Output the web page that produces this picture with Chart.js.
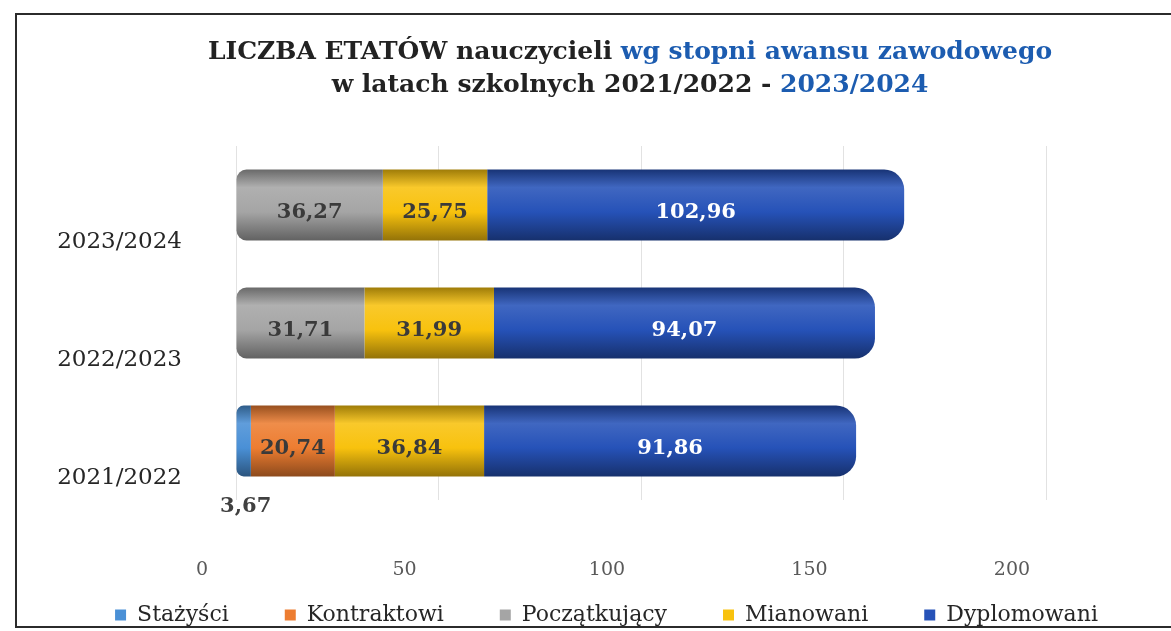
<!DOCTYPE html>
<html lang="pl">

<head>
  <meta charset="UTF-8">
  <title>Liczba etatów nauczycieli</title>
  <script src="https://cdn.jsdelivr.net/npm/chart.js"></script>
  <style>
    html, body { margin: 0; padding: 0; background: #fff; }
    #wrap { width: 1171px; height: 631px; position: relative; }
  </style>
</head>

<body>
  <div id="wrap"><canvas id="etaty"></canvas></div>
  <script>
    // dane
    const lata = ['2023/2024', '2022/2023', '2021/2022'];
    const stazysci = [null, null, 3.67];
    const kontraktowi = [null, null, 20.74];
    const poczatkujacy = [36.27, 31.71, null];
    const mianowani = [25.75, 31.99, 36.84];
    const dyplomowani = [102.96, 94.07, 91.86];
    const osMin = 0, osMax = 200, osKrok = 50;

    const tytul1 = ['LICZBA ETATÓW nauczycieli ', 'wg stopni awansu zawodowego'];
    const tytul2 = ['w latach szkolnych 2021/2022 - ', '2023/2024'];

    const serif = '"DejaVu Serif", "Liberation Serif", serif';
    const legPad = 56;

    // cieniowanie "walca"
    function shade(hex, f) {
      const n = parseInt(hex.slice(1), 16);
      let r = n >> 16, g = (n >> 8) & 255, b = n & 255;
      const t = f < 0 ? 0 : 255, p = Math.abs(f);
      r = Math.round((t - r) * p + r);
      g = Math.round((t - g) * p + g);
      b = Math.round((t - b) * p + b);
      return `rgb(${r},${g},${b})`;
    }

    function walec(color) {
      return (ctx) => {
        const chart = ctx.chart;
        const y = chart.scales.y;
        if (!y || !chart.chartArea || ctx.dataIndex === undefined) return color;
        const py = y.getPixelForValue(ctx.dataIndex);
        const g = chart.ctx.createLinearGradient(0, py - 35, 0, py + 35);
        g.addColorStop(0, shade(color, -0.35));
        g.addColorStop(0.25, shade(color, 0.12));
        g.addColorStop(0.6, color);
        g.addColorStop(1, shade(color, -0.4));
        return g;
      };
    }

    const fmt = v => v.toFixed(2).replace('.', ',');

    const etykiety = {
      id: 'etykiety',
      afterDatasetsDraw(chart) {
        const ctx = chart.ctx;
        ctx.save();
        ctx.font = 'bold 21px ' + serif;
        ctx.textAlign = 'center';
        ctx.textBaseline = 'middle';
        chart.data.datasets.forEach((ds, i) => {
          const meta = chart.getDatasetMeta(i);
          meta.data.forEach((bar, j) => {
            const v = ds.data[j];
            if (v == null) return;
            const cx = (bar.x + bar.base) / 2;
            if (ds.label === 'Stażyści') {
              ctx.fillStyle = '#404040';
              ctx.fillText(fmt(v), cx + 2, bar.y + 66);
              return;
            }
            ctx.fillStyle = ds.label === 'Dyplomowani' ? '#ffffff' : '#3a3a3a';
            ctx.fillText(fmt(v), cx, bar.y + 8);
          });
        });
        ctx.restore();
      }
    };

    const ramkaTytul = {
      id: 'ramkaTytul',
      afterDraw(chart) {
        const ctx = chart.ctx;
        ctx.save();
        ctx.strokeStyle = '#2b2b2b';
        ctx.lineWidth = 2;
        ctx.beginPath();
        ctx.moveTo(1175, 14);
        ctx.lineTo(16, 14);
        ctx.lineTo(16, 627);
        ctx.lineTo(1175, 627);
        ctx.stroke();

        ctx.font = 'bold 25px ' + serif;
        ctx.textBaseline = 'alphabetic';
        ctx.textAlign = 'left';
        const kolory = ['#222222', '#1c5cb0'];
        [[tytul1, 59], [tytul2, 92]].forEach(([czesci, yy]) => {
          const w = czesci.reduce((s, t) => s + ctx.measureText(t).width, 0);
          let x = 630 - w / 2;
          czesci.forEach((t, k) => {
            ctx.fillStyle = kolory[k];
            ctx.fillText(t, x, yy);
            x += ctx.measureText(t).width;
          });
        });
        ctx.restore();
      }
    };

    const ctx = document.getElementById('etaty').getContext('2d');

    const zestawy = [
      { label: 'Stażyści', data: stazysci, color: '#4a90d6', radius: { topLeft: 10, bottomLeft: 10 } },
      { label: 'Kontraktowi', data: kontraktowi, color: '#ed7d31', radius: 0 },
      { label: 'Początkujący', data: poczatkujacy, color: '#a5a5a5', radius: { topLeft: 10, bottomLeft: 10 } },
      { label: 'Mianowani', data: mianowani, color: '#f8c20e', radius: 0 },
      { label: 'Dyplomowani', data: dyplomowani, color: '#2652b8', radius: { topRight: 20, bottomRight: 20 } }
    ];

    new Chart(ctx, {
      type: 'bar',
      data: {
        labels: lata,
        datasets: zestawy.map(d => ({
          label: d.label,
          data: d.data,
          backgroundColor: walec(d.color),
          borderWidth: 0,
          borderRadius: d.radius,
          borderSkipped: false,
          barPercentage: 0.6,
          categoryPercentage: 1.0,
          legendColor: d.color
        }))
      },
      options: {
        indexAxis: 'y',
        responsive: true,
        maintainAspectRatio: false,
        animation: false,
        layout: { padding: { top: 146, left: 42, right: 0, bottom: -5 } },
        scales: {
          x: {
            stacked: true,
            min: osMin,
            max: osMax,
            afterFit: s => { s.height = 636 - (32 + legPad) - 500; },
            grid: { color: '#e2e2e2', drawTicks: false },
            border: { display: false },
            ticks: {
              stepSize: osKrok,
              mirror: true,
              padding: -81,
              labelOffset: -34,
              color: '#595959',
              font: { family: serif, size: 19 }
            }
          },
          y: {
            stacked: true,
            afterFit: s => { s.width = 194; },
            grid: { display: false },
            border: { display: false },
            ticks: {
              padding: 46,
              labelOffset: 37,
              color: '#262626',
              font: { family: serif, size: 23 }
            }
          },
          prawa: {
            type: 'linear',
            position: 'right',
            display: true,
            afterFit: s => { s.width = 125; },
            grid: { display: false },
            border: { display: false },
            ticks: { display: false }
          }
        },
        plugins: {
          legend: {
            position: 'bottom',
            labels: {
              boxWidth: 11,
              boxHeight: 11,
              padding: legPad,
              color: '#262626',
              font: { family: serif, size: 22 },
              generateLabels: chart => chart.data.datasets.map((ds, i) => ({
                text: ds.label,
                fillStyle: ds.legendColor,
                strokeStyle: ds.legendColor,
                lineWidth: 0,
                datasetIndex: i,
                fontColor: '#262626'
              }))
            }
          },
          tooltip: { enabled: false }
        }
      },
      plugins: [etykiety, ramkaTytul]
    });
  </script>
</body>

</html>
